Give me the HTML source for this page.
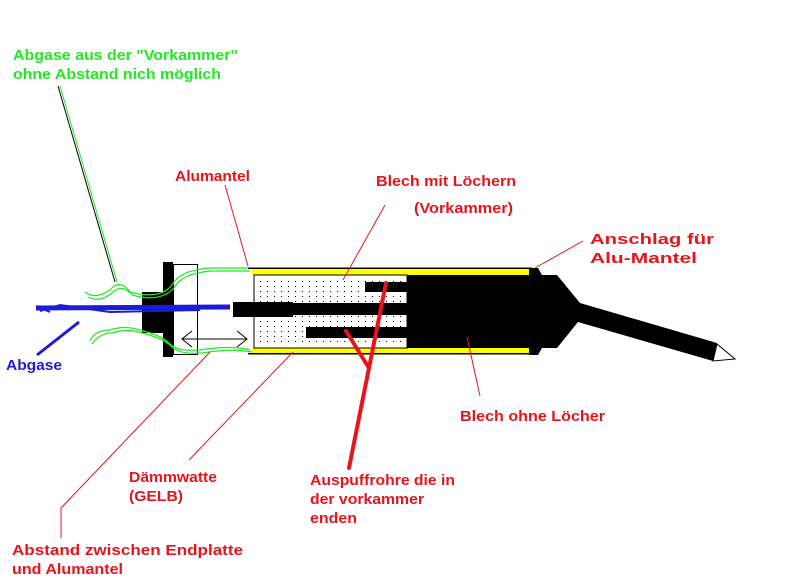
<!DOCTYPE html>
<html><head><meta charset="utf-8"><style>
html,body{margin:0;padding:0;background:#fff;}
svg{display:block;}
text{font-family:"Liberation Sans",Arial,sans-serif;font-weight:bold;font-size:15px;}
.r{fill:#e8141c;}
.g{fill:#22e822;}
.b{fill:#1c1cd8;}
</style></head><body>
<svg width="790" height="583" viewBox="0 0 790 583" xmlns="http://www.w3.org/2000/svg">
<rect width="790" height="583" fill="#fff"/>
<!-- green leader -->
<line x1="58" y1="86" x2="115" y2="282" stroke="#000" stroke-width="1"/>
<line x1="60" y1="86" x2="117" y2="282" stroke="#22e822" stroke-width="1"/>
<!-- endplate box -->
<rect x="173.5" y="264.5" width="24" height="90" fill="#fff" stroke="#000"/>
<rect x="163" y="262" width="10" height="95" fill="#000"/>
<rect x="142" y="292" width="21" height="41" fill="#000"/>
<!-- main body -->
<rect x="248" y="267.5" width="284" height="1.5" fill="#000"/>
<rect x="248" y="353" width="284" height="1.5" fill="#000"/>
<rect x="252" y="269" width="280" height="6" fill="#ffff00"/>
<rect x="252" y="348" width="280" height="5" fill="#ffff00"/>
<rect x="254" y="275" width="153" height="73" fill="#fff" stroke="#000"/>
<!-- dots -->
<pattern id="dots" width="7" height="5" patternUnits="userSpaceOnUse">
<rect x="1" y="1" width="1" height="1" fill="#000"/>
</pattern>
<rect x="258" y="279" width="148" height="66" fill="url(#dots)"/>
<!-- pipes -->
<rect x="233" y="302" width="60" height="15" fill="#000"/>
<rect x="293" y="303" width="115" height="12" fill="#000"/>
<rect x="365" y="282" width="43" height="10" fill="#000"/>
<rect x="306" y="327" width="102" height="11" fill="#000"/>
<rect x="407" y="275" width="125" height="73" fill="#000"/>
<!-- cap & tip -->
<path d="M529 268 L538 268 L542 275 L557 275 L580 303 L717 343 L713 361 L578 322 L557 348 L542 348 L538 355 L529 355 Z" fill="#000"/>
<path d="M717 344 L735 359 L713 361 Z" fill="#fff" stroke="#000" stroke-width="1"/>
<!-- arrow -->
<g stroke="#000" stroke-width="1" fill="none">
<line x1="182" y1="339" x2="247" y2="339"/>
<polyline points="192,331 182,339 192,347"/>
<polyline points="237,331 247,339 237,347"/>
</g>
<!-- green exhaust wisps -->
<g stroke="#22e822" stroke-width="1.2" fill="none">
<path d="M85 292 Q95 300 110 290 Q120 278 130 292 Q160 300 172 285 Q180 270 210 268 L248 268"/>
<path d="M88 297 Q100 303 112 293 Q122 283 132 295 Q160 303 174 288 Q182 273 212 271 L250 271"/>
<path d="M90 341 Q95 330 110 330 Q125 325 140 330 Q160 335 168 342 Q175 352 200 350 Q230 345 250 350"/>
<path d="M92 344 Q100 333 112 333 Q128 328 142 333 Q162 338 170 345 Q178 355 202 353 Q232 348 252 352"/>
</g>
<!-- blue -->
<g stroke="#1c1cd8" fill="none">
<path d="M36 308 L230 307" stroke-width="5"/>
<path d="M40 311 L60 305 L110 312 L200 310" stroke-width="2"/>
<line x1="36" y1="306" x2="50" y2="312" stroke-width="2"/>
<line x1="37" y1="355" x2="79" y2="322" stroke-width="3"/>
</g>
<!-- red thin leaders -->
<g stroke="#e8141c" stroke-width="1" fill="none">
<line x1="225" y1="185" x2="248" y2="266"/>
<line x1="385" y1="205" x2="343" y2="280"/>
<line x1="583" y1="241" x2="535" y2="268"/>
<line x1="467" y1="337" x2="480" y2="396"/>
<line x1="293" y1="352" x2="189" y2="460"/>
<polyline points="210,352 61,508 61,538"/>
</g>
<!-- red thick -->
<g stroke="#e8141c" stroke-width="4" fill="none" stroke-linecap="round">
<polyline points="349,468 369,368 386,283"/>
<line x1="369" y1="368" x2="346" y2="331"/>
</g>
<!-- text -->
<text class="g" x="13" y="60" textLength="225" lengthAdjust="spacingAndGlyphs">Abgase aus der "Vorkammer"</text>
<text class="g" x="13" y="79" textLength="208" lengthAdjust="spacingAndGlyphs">ohne Abstand nich möglich</text>
<text class="r" x="175" y="181" textLength="75" lengthAdjust="spacingAndGlyphs">Alumantel</text>
<text class="r" x="376" y="186" textLength="140" lengthAdjust="spacingAndGlyphs">Blech mit Löchern</text>
<text class="r" x="414" y="213" textLength="99" lengthAdjust="spacingAndGlyphs">(Vorkammer)</text>
<text class="r" x="590" y="244" textLength="124" lengthAdjust="spacingAndGlyphs">Anschlag für</text>
<text class="r" x="590" y="263" textLength="107" lengthAdjust="spacingAndGlyphs">Alu-Mantel</text>
<text class="b" x="6" y="370" textLength="56" lengthAdjust="spacingAndGlyphs">Abgase</text>
<text class="r" x="460" y="421" textLength="145" lengthAdjust="spacingAndGlyphs">Blech ohne Löcher</text>
<text class="r" x="129" y="482" textLength="88" lengthAdjust="spacingAndGlyphs">Dämmwatte</text>
<text class="r" x="129" y="501" textLength="54" lengthAdjust="spacingAndGlyphs">(GELB)</text>
<text class="r" x="310" y="485" textLength="145" lengthAdjust="spacingAndGlyphs">Auspuffrohre die in</text>
<text class="r" x="310" y="504" textLength="114" lengthAdjust="spacingAndGlyphs">der vorkammer</text>
<text class="r" x="310" y="523" textLength="47" lengthAdjust="spacingAndGlyphs">enden</text>
<text class="r" x="12" y="555" textLength="231" lengthAdjust="spacingAndGlyphs">Abstand zwischen Endplatte</text>
<text class="r" x="12" y="574" textLength="111" lengthAdjust="spacingAndGlyphs">und Alumantel</text>
</svg>
</body></html>
